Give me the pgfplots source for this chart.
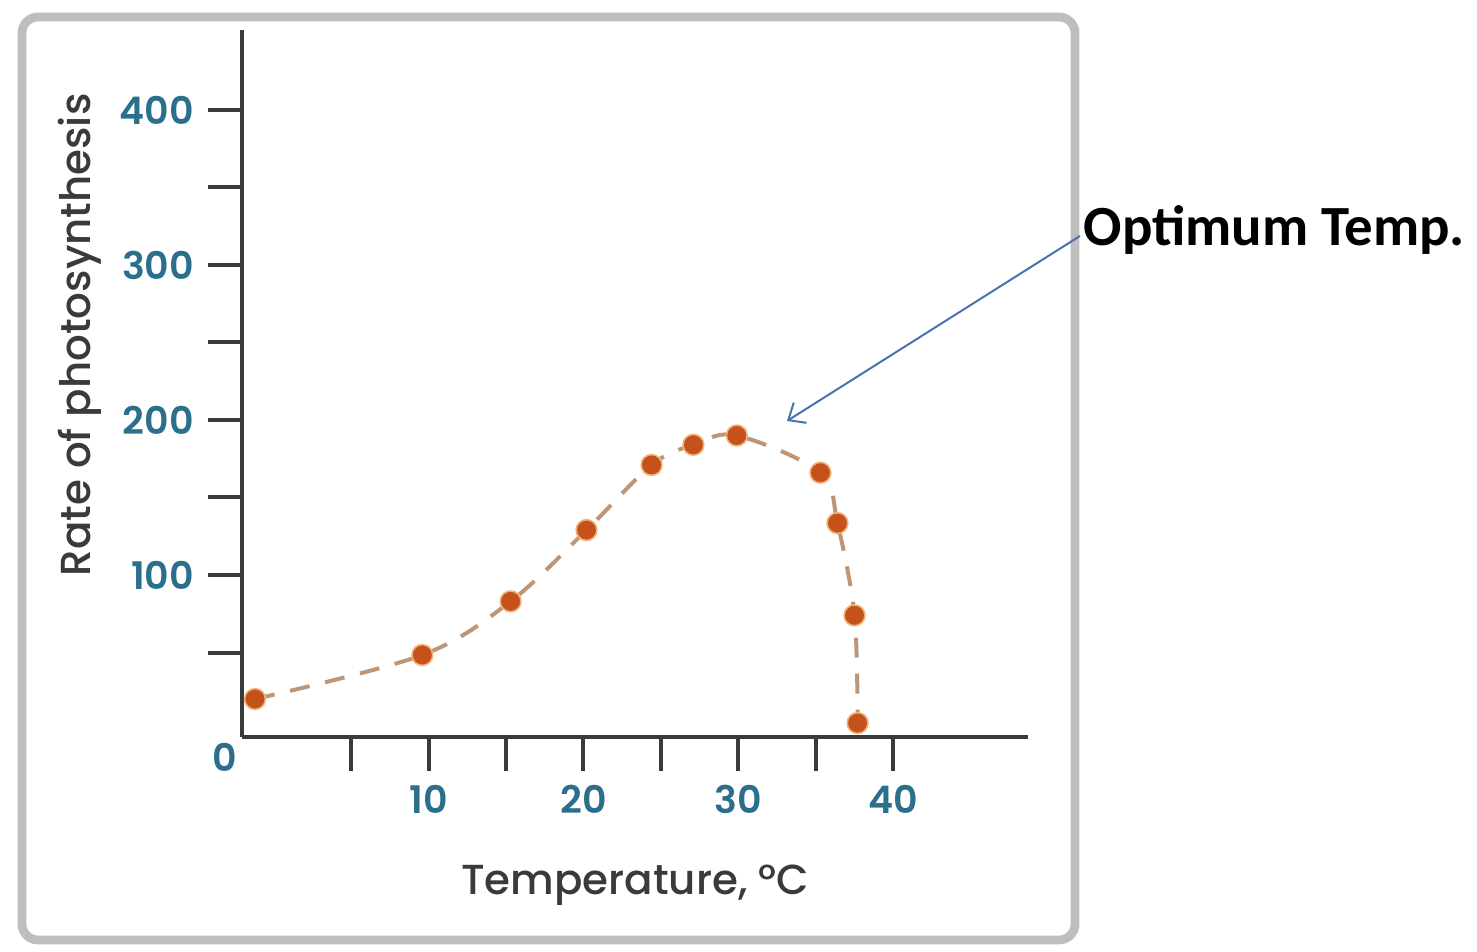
\documentclass[border=0pt]{standalone}
\usepackage{fontspec}
\setmainfont{Poppins}
\newfontfamily\pmed{Poppins Medium}
\newfontfamily\psemi{Poppins SemiBold}
\newfontfamily\carlito{Carlito}
\usepackage{pgfplots}
\pgfplotsset{compat=1.18}
\usetikzlibrary{arrows.meta}

\definecolor{tickteal}{HTML}{2B6F8C}
\definecolor{axisgray}{HTML}{3A3A3A}
\definecolor{dotorange}{HTML}{C4521A}
\definecolor{dothalo}{HTML}{F2B27C}
\definecolor{dashtan}{HTML}{BF9675}
\definecolor{framegray}{HTML}{BEBEBE}
\definecolor{arrowblue}{HTML}{4A72B0}

\begin{document}
\begin{tikzpicture}
% 1 px of the reference = 0.25pt
\useasboundingbox (0,0) rectangle (369.25pt,238pt);
\draw[framegray, line width=2.2pt, rounded corners=4pt] (5.5pt,3pt) rectangle (268.75pt,233.75pt);

\begin{axis}[
    at={(60.5pt,53.75pt)}, anchor=south west,
    scale only axis, width=196.5pt, height=176.75pt,
    xmin=-2.04, xmax=48.7,
    ymin=-4.5, ymax=451.6,
    axis lines=left,
    axis line style={-, axisgray, line width=1pt},
    xtick={5,10,...,40}, xticklabels={,10,,20,,30,,40},
    ytick={50,100,...,400}, yticklabels={,100,,200,,300,,400},
    tick align=outside, major tick length=8.5pt,
    tick style={axisgray, line width=1pt},
    ticklabel style={font=\psemi\fontsize{9.5}{11}\selectfont, text=tickteal},
    /pgf/number format/assume math mode=true,
    clip=false,
]

% dashed trend curve
\addplot[dashtan, line width=1pt, dash pattern=on 5pt off 4pt, smooth, tension=0.55]
    coordinates {
    (-1.2,20)(9.6,48.4)(15.3,83)(20.2,129)(24.4,171)(27.1,184)(29.9,190)
    (35.3,166)(36.4,133.5)(37.5,74)(37.7,4.5)
    };

% measured points
\addplot[only marks, mark=*, mark size=2.6pt,
    mark options={fill=dotorange, draw=dothalo, line width=0.4pt}]
    coordinates {
    (-1.2,20)(9.6,48.4)(15.3,83)(20.2,129)(24.4,171)(27.1,184)(29.9,190)
    (35.3,166)(36.4,133.5)(37.5,74)(37.7,4.5)
    };

\end{axis}

\node[text=tickteal, font=\psemi\fontsize{9.5}{11}\selectfont] at (56.25pt,48.75pt) {0};
\node[text=axisgray, font=\pmed\fontsize{10.5}{12}\selectfont] at (158.75pt,16.75pt) {Temperature, °C};
\node[text=axisgray, font=\pmed\fontsize{10.5}{12}\selectfont, rotate=90] at (20pt,154.25pt) {Rate of photosynthesis};

\draw[arrowblue, line width=0.5pt, -{Straight Barb[length=3.5pt,width=6pt]}] (270pt,179pt) -- (196.75pt,132.75pt);
\node[anchor=west, inner sep=0pt, font=\carlito\bfseries\fontsize{14.2}{16}\selectfont] at (270.75pt,180.5pt) {Optimum Temp.};
\end{tikzpicture}
\end{document}
